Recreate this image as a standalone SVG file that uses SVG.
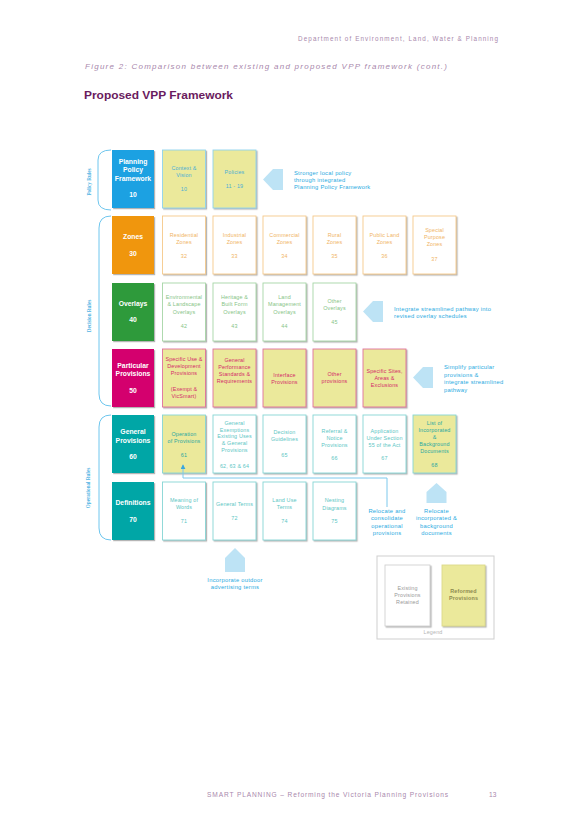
<svg xmlns="http://www.w3.org/2000/svg" width="581" height="822" viewBox="0 0 581 822">
<defs>
<filter id="ds" x="-10%" y="-10%" width="130%" height="130%">
<feDropShadow dx="1.2" dy="1.2" stdDeviation="0.5" flood-color="#777" flood-opacity="0.55"/>
</filter>
<marker id="ah" viewBox="0 0 6 6" refX="5" refY="3" markerWidth="5" markerHeight="5" orient="auto">
<path d="M0,0 L6,3 L0,6 z" fill="#3aa6dc"/>
</marker>
</defs>
<style>
text{font-family:"Liberation Sans",Arial,sans-serif}
.box{filter:url(#ds);stroke-width:0.9}
.cat{font-weight:bold;font-size:6.8px;fill:#fff;text-anchor:middle}
.t{font-size:5.4px;text-anchor:middle;letter-spacing:0.15px}
.yel{fill:#ebe99b}
.wht{fill:#fff}
.bp{stroke:#8fd3ee}.bo{stroke:#f5c98a}.bg{stroke:#a6d6a6}.bm{stroke:#e0709c}.bt{stroke:#86d6d4}
.tp{fill:#4aaed6}.to{fill:#f0b464}.tg{fill:#86c486}.tm{fill:#d42a6a}.tt{fill:#5cc6c4}.tt2{fill:#2aa8a2}
.brace{fill:none;stroke:#6ec6ee;stroke-width:1}
.rl{font-family:"Liberation Serif",serif;font-weight:bold;font-size:5.2px;fill:#4fb3e3;text-anchor:middle}
.arr{fill:#bde3f5}
.note{font-size:5.8px;fill:#29aae1;letter-spacing:0.25px}
.conn{fill:none;stroke:#7cc8ec;stroke-width:1}
.pg{fill:#a988ac}
</style>
<rect width="581" height="822" fill="#fff"/>

<!-- header -->
<text class="pg" x="498" y="41" font-size="6.3" text-anchor="end" textLength="200" lengthAdjust="spacing">Department of Environment, Land, Water &amp; Planning</text>
<text class="pg" x="85" y="69" font-size="8" font-style="italic" textLength="362" lengthAdjust="spacing">Figure 2: Comparison between existing and proposed VPP framework (cont.)</text>
<text x="84" y="99" font-size="11.4" font-weight="bold" fill="#6a1b5e" textLength="149" lengthAdjust="spacingAndGlyphs">Proposed VPP Framework</text>

<!-- braces and rule labels -->
<g id="policy-rules">
<path class="brace" d="M111,150 Q98,150 98,160 L98,200 Q98,210 111,210"/>
<text class="rl" transform="translate(91,182) rotate(-90)">Policy Rules</text>
</g>
<g id="decision-rules">
<path class="brace" d="M111,216 Q99,216 99,228 L99,394 Q99,406 111,406"/>
<text class="rl" transform="translate(91,316) rotate(-90)">Decision Rules</text>
</g>
<g id="operational-rules">
<path class="brace" d="M111,415 Q99,415 99,427 L99,528 Q99,540 111,540"/>
<text class="rl" transform="translate(90,488) rotate(-90)">Operational Rules</text>
</g>

<!-- Row 0: Policy -->
<g id="ppf">
<rect class="box" x="112" y="150" width="42" height="58" fill="#1ba1e2"/>
<text class="cat"><tspan x="133" y="163.5">Planning</tspan><tspan x="133" y="172">Policy</tspan><tspan x="133" y="180.5">Framework</tspan><tspan x="133" y="197">10</tspan></text>
</g>
<g id="context-vision">
<rect class="box yel bp" x="162.5" y="150" width="43" height="58"/>
<text class="t tp"><tspan x="184" y="170">Context &amp;</tspan><tspan x="184" y="177">Vision</tspan><tspan x="184" y="191">10</tspan></text>
</g>
<g id="policies">
<rect class="box yel bp" x="213" y="150" width="43" height="58"/>
<text class="t tp"><tspan x="234.5" y="174">Policies</tspan><tspan x="234.5" y="188">11 - 19</tspan></text>
</g>
<g id="note-policy">
<polygon class="arr" points="263,179.5 273,169 283,169 283,190 273,190"/>
<text class="note"><tspan x="294" y="175">Stronger local policy</tspan><tspan x="294" y="182">through integrated</tspan><tspan x="294" y="189">Planning Policy Framework</tspan></text>
</g>

<!-- Row 1: Zones -->
<g id="zones">
<rect class="box" x="112" y="216" width="42" height="58" fill="#f0960f"/>
<text class="cat"><tspan x="133" y="239">Zones</tspan><tspan x="133" y="255.5">30</tspan></text>
</g>
<g id="z32">
<rect class="box wht bo" x="162.5" y="216" width="43" height="58"/>
<text class="t to"><tspan x="184" y="237">Residential</tspan><tspan x="184" y="244">Zones</tspan><tspan x="184" y="258">32</tspan></text>
</g>
<g id="z33">
<rect class="box wht bo" x="213" y="216" width="43" height="58"/>
<text class="t to"><tspan x="234.5" y="237">Industrial</tspan><tspan x="234.5" y="244">Zones</tspan><tspan x="234.5" y="258">33</tspan></text>
</g>
<g id="z34">
<rect class="box wht bo" x="263" y="216" width="43" height="58"/>
<text class="t to"><tspan x="284.5" y="237">Commercial</tspan><tspan x="284.5" y="244">Zones</tspan><tspan x="284.5" y="258">34</tspan></text>
</g>
<g id="z35">
<rect class="box wht bo" x="313" y="216" width="43" height="58"/>
<text class="t to"><tspan x="334.5" y="237">Rural</tspan><tspan x="334.5" y="244">Zones</tspan><tspan x="334.5" y="258">35</tspan></text>
</g>
<g id="z36">
<rect class="box wht bo" x="363" y="216" width="43" height="58"/>
<text class="t to"><tspan x="384.5" y="237">Public Land</tspan><tspan x="384.5" y="244">Zones</tspan><tspan x="384.5" y="258">36</tspan></text>
</g>
<g id="z37">
<rect class="box wht bo" x="413" y="216" width="43" height="58"/>
<text class="t to"><tspan x="434.5" y="232">Special</tspan><tspan x="434.5" y="239">Purpose</tspan><tspan x="434.5" y="246">Zones</tspan><tspan x="434.5" y="260.5">37</tspan></text>
</g>

<!-- Row 2: Overlays -->
<g id="overlays">
<rect class="box" x="112" y="283" width="42" height="58" fill="#2e9a3a"/>
<text class="cat"><tspan x="133" y="305.5">Overlays</tspan><tspan x="133" y="322">40</tspan></text>
</g>
<g id="o42">
<rect class="box wht bg" x="162.5" y="283" width="43" height="58"/>
<text class="t tg"><tspan x="184" y="299">Environmental</tspan><tspan x="184" y="306">&amp; Landscape</tspan><tspan x="184" y="313.5">Overlays</tspan><tspan x="184" y="328">42</tspan></text>
</g>
<g id="o43">
<rect class="box wht bg" x="213" y="283" width="43" height="58"/>
<text class="t tg"><tspan x="234.5" y="299">Heritage &amp;</tspan><tspan x="234.5" y="306">Built Form</tspan><tspan x="234.5" y="313.5">Overlays</tspan><tspan x="234.5" y="328">43</tspan></text>
</g>
<g id="o44">
<rect class="box wht bg" x="263" y="283" width="43" height="58"/>
<text class="t tg"><tspan x="284.5" y="299">Land</tspan><tspan x="284.5" y="306">Management</tspan><tspan x="284.5" y="313.5">Overlays</tspan><tspan x="284.5" y="328">44</tspan></text>
</g>
<g id="o45">
<rect class="box wht bg" x="313" y="283" width="43" height="58"/>
<text class="t tg"><tspan x="334.5" y="302.5">Other</tspan><tspan x="334.5" y="310">Overlays</tspan><tspan x="334.5" y="324">45</tspan></text>
</g>
<g id="note-overlays">
<polygon class="arr" points="363,311.5 373,301 383,301 383,322 373,322"/>
<text class="note"><tspan x="394" y="310.5">Integrate streamlined pathway into</tspan><tspan x="394" y="318">revised overlay schedules</tspan></text>
</g>

<!-- Row 3: Particular provisions -->
<g id="particular">
<rect class="box" x="112" y="349" width="42" height="58" fill="#d4006e"/>
<text class="cat"><tspan x="133" y="367.5">Particular</tspan><tspan x="133" y="376">Provisions</tspan><tspan x="133" y="392.5">50</tspan></text>
</g>
<g id="p-specific-use">
<rect class="box yel bm" x="162.5" y="349" width="43" height="58"/>
<text class="t tm"><tspan x="184" y="360.5">Specific Use &amp;</tspan><tspan x="184" y="367.5">Development</tspan><tspan x="184" y="374.5">Provisions</tspan><tspan x="184" y="390.5">(Exempt &amp;</tspan><tspan x="184" y="397.5">VicSmart)</tspan></text>
</g>
<g id="p-general-perf">
<rect class="box yel bm" x="213" y="349" width="43" height="58"/>
<text class="t tm"><tspan x="234.5" y="362">General</tspan><tspan x="234.5" y="369">Performance</tspan><tspan x="234.5" y="376">Standards &amp;</tspan><tspan x="234.5" y="383">Requirements</tspan></text>
</g>
<g id="p-interface">
<rect class="box yel bm" x="263" y="349" width="43" height="58"/>
<text class="t tm"><tspan x="284.5" y="376.5">Interface</tspan><tspan x="284.5" y="383.5">Provisions</tspan></text>
</g>
<g id="p-other">
<rect class="box yel bm" x="313" y="349" width="43" height="58"/>
<text class="t tm"><tspan x="334.5" y="375.5">Other</tspan><tspan x="334.5" y="382.5">provisions</tspan></text>
</g>
<g id="p-specific-sites">
<rect class="box yel bm" x="363" y="349" width="43" height="58"/>
<text class="t tm"><tspan x="384.5" y="373">Specific Sites,</tspan><tspan x="384.5" y="380">Areas &amp;</tspan><tspan x="384.5" y="387">Exclusions</tspan></text>
</g>
<g id="note-particular">
<polygon class="arr" points="413,377.5 423,367 433,367 433,388 423,388"/>
<text class="note"><tspan x="444" y="369">Simplify particular</tspan><tspan x="444" y="376.5">provisions &amp;</tspan><tspan x="444" y="384">integrate streamlined</tspan><tspan x="444" y="391.5">pathway</tspan></text>
</g>

<!-- Row 4: General provisions -->
<g id="general">
<rect class="box" x="112" y="415" width="42" height="58" fill="#00a6a6"/>
<text class="cat"><tspan x="133" y="434">General</tspan><tspan x="133" y="442.5">Provisions</tspan><tspan x="133" y="459">60</tspan></text>
</g>
<g id="g61">
<rect class="box yel bt" x="162.5" y="415" width="43" height="58"/>
<text class="t tt2"><tspan x="184" y="436">Operation</tspan><tspan x="184" y="443">of Provisions</tspan><tspan x="184" y="457">61</tspan></text>
</g>
<g id="g62">
<rect class="box wht bt" x="213" y="415" width="43" height="58"/>
<text class="t tt"><tspan x="234.5" y="425">General</tspan><tspan x="234.5" y="431.5">Exemptions</tspan><tspan x="234.5" y="438">Existing Uses</tspan><tspan x="234.5" y="445">&amp; General</tspan><tspan x="234.5" y="452">Provisions</tspan><tspan x="234.5" y="468">62, 63 &amp; 64</tspan></text>
</g>
<g id="g65">
<rect class="box wht bt" x="263" y="415" width="43" height="58"/>
<text class="t tt"><tspan x="284.5" y="434">Decision</tspan><tspan x="284.5" y="441">Guidelines</tspan><tspan x="284.5" y="457">65</tspan></text>
</g>
<g id="g66">
<rect class="box wht bt" x="313" y="415" width="43" height="58"/>
<text class="t tt"><tspan x="334.5" y="433">Referral &amp;</tspan><tspan x="334.5" y="440">Notice</tspan><tspan x="334.5" y="447">Provisions</tspan><tspan x="334.5" y="460">66</tspan></text>
</g>
<g id="g67">
<rect class="box wht bt" x="363" y="415" width="43" height="58"/>
<text class="t tt"><tspan x="384.5" y="433">Application</tspan><tspan x="384.5" y="440">Under Section</tspan><tspan x="384.5" y="447">55 of the Act</tspan><tspan x="384.5" y="460">67</tspan></text>
</g>
<g id="g68">
<rect class="box yel bt" x="413" y="415" width="43" height="58"/>
<text class="t tt2"><tspan x="434.5" y="425">List of</tspan><tspan x="434.5" y="432">Incorporated</tspan><tspan x="434.5" y="439">&amp;</tspan><tspan x="434.5" y="446">Background</tspan><tspan x="434.5" y="453">Documents</tspan><tspan x="434.5" y="467">68</tspan></text>
</g>

<!-- Row 5: Definitions -->
<g id="definitions">
<rect class="box" x="112" y="482" width="42" height="58" fill="#00a6a6"/>
<text class="cat"><tspan x="133" y="505">Definitions</tspan><tspan x="133" y="521.5">70</tspan></text>
</g>
<g id="d71">
<rect class="box wht bt" x="162.5" y="482" width="43" height="58"/>
<text class="t tt"><tspan x="184" y="502">Meaning of</tspan><tspan x="184" y="509">Words</tspan><tspan x="184" y="523">71</tspan></text>
</g>
<g id="d72">
<rect class="box wht bt" x="213" y="482" width="43" height="58"/>
<text class="t tt"><tspan x="234.5" y="506">General Terms</tspan><tspan x="234.5" y="520">72</tspan></text>
</g>
<g id="d74">
<rect class="box wht bt" x="263" y="482" width="43" height="58"/>
<text class="t tt"><tspan x="284.5" y="502">Land Use</tspan><tspan x="284.5" y="509">Terms</tspan><tspan x="284.5" y="523">74</tspan></text>
</g>
<g id="d75">
<rect class="box wht bt" x="313" y="482" width="43" height="58"/>
<text class="t tt"><tspan x="334.5" y="502">Nesting</tspan><tspan x="334.5" y="509.5">Diagrams</tspan><tspan x="334.5" y="523">75</tspan></text>
</g>

<!-- connectors -->
<g id="connectors">
<path class="conn" d="M387,507 V478 H183 V465" marker-end="url(#ah)"/>
</g>

<g id="note-relocate-ops">
<text class="note" text-anchor="middle" font-size="5.6"><tspan x="387" y="513">Relocate and</tspan><tspan x="387" y="520">consolidate</tspan><tspan x="387" y="527.5">operational</tspan><tspan x="387" y="534.5">provisions</tspan></text>
</g>
<g id="note-relocate-docs">
<polygon class="arr" points="436.5,483 446.5,492 446.5,503 426.5,503 426.5,492"/>
<text class="note" text-anchor="middle" font-size="5.6"><tspan x="436.5" y="513">Relocate</tspan><tspan x="436.5" y="520">incorporated &amp;</tspan><tspan x="436.5" y="527.5">background</tspan><tspan x="436.5" y="534.5">documents</tspan></text>
</g>
<g id="note-outdoor">
<polygon class="arr" points="235,548 245,558 245,572 225,572 225,558"/>
<text class="note" text-anchor="middle" font-size="5.6"><tspan x="235" y="582">Incorporate outdoor</tspan><tspan x="235" y="589">advertising terms</tspan></text>
</g>

<!-- legend -->
<g id="legend">
<rect x="377" y="556" width="117" height="83" fill="#fff" stroke="#cfcfcf" stroke-width="1"/>
<rect class="box wht" x="385" y="565" width="45" height="61" stroke="#d0d0d0"/>
<text class="t" fill="#9a9a9a"><tspan x="407.5" y="590">Existing</tspan><tspan x="407.5" y="597">Provisions</tspan><tspan x="407.5" y="604">Retained</tspan></text>
<rect class="box yel" x="442" y="565" width="43" height="61" stroke="#dcd98a"/>
<text class="t" fill="#8c8a50" font-weight="bold"><tspan x="463.5" y="593">Reformed</tspan><tspan x="463.5" y="600">Provisions</tspan></text>
<text class="t" fill="#b5b5b5" x="433" y="634">Legend</text>
</g>

<!-- footer -->
<text class="pg" x="207" y="797" font-size="6.6" textLength="241" lengthAdjust="spacing">SMART PLANNING – Reforming the Victoria Planning Provisions</text>
<text class="pg" x="489" y="797" font-size="6.6">13</text>
</svg>
